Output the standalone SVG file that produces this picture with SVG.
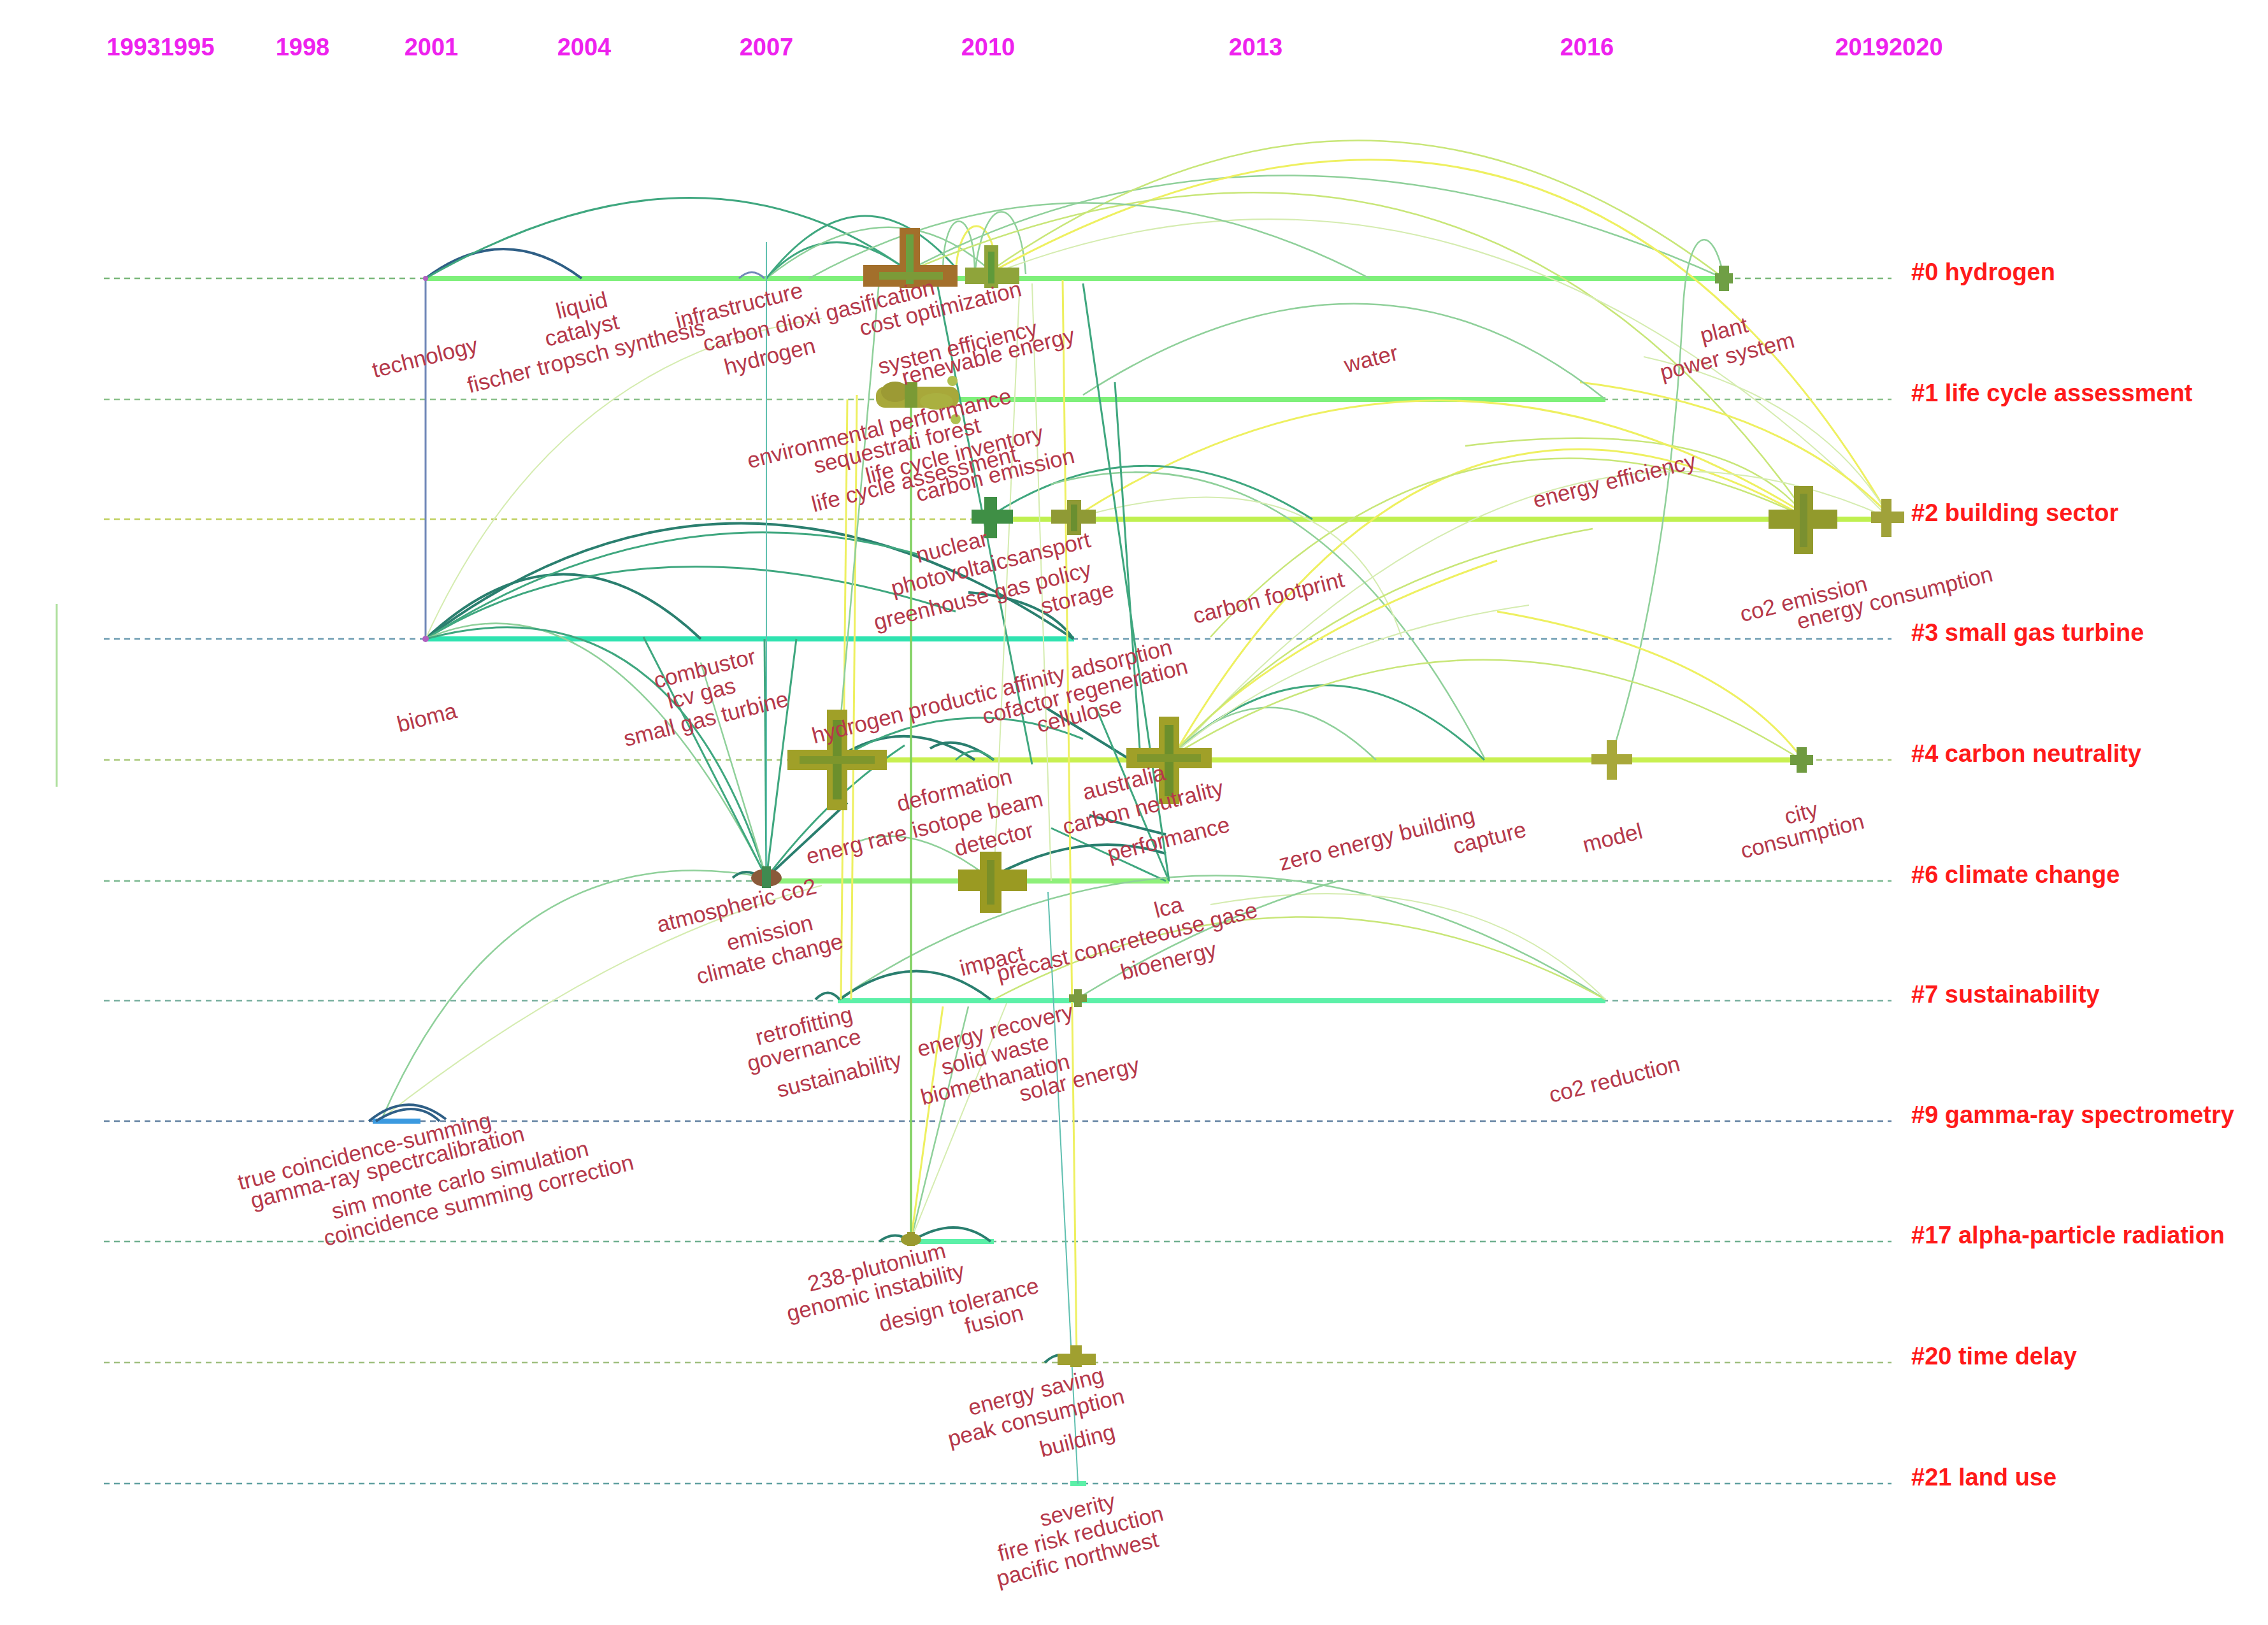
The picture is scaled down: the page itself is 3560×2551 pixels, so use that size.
<svg xmlns="http://www.w3.org/2000/svg" width="3560" height="2551" viewBox="0 0 3560 2551">
<style>
.yr{font-family:"Liberation Sans",Arial,sans-serif;font-weight:bold;font-size:38px;fill:#ee22ee;text-anchor:middle}
.cl{font-family:"Liberation Sans",Arial,sans-serif;font-weight:bold;font-size:38px;fill:#ff1a1a}
.kw{font-family:"Liberation Sans",Arial,sans-serif;font-size:35px;fill:#b5384a;text-anchor:middle}
.dash{stroke-width:2.5;stroke-dasharray:9 7;fill:none}
.tl{stroke-width:8;fill:none;stroke-linecap:butt}
.c1{stroke:#2a7f6f;stroke-width:4;fill:none}
.c2{stroke:#3fa77f;stroke-width:3;fill:none}
.c3{stroke:#8fd09a;stroke-width:2.5;fill:none}
.c4{stroke:#eef060;stroke-width:3;fill:none}
.c5{stroke:#c8e678;stroke-width:2.5;fill:none}
.c6{stroke:#d5ecb0;stroke-width:2;fill:none}
.c7{stroke:#7088b8;stroke-width:3;fill:none}
.c8{stroke:#2f5f86;stroke-width:4;fill:none}
.cg{stroke:#80d060;stroke-width:3.5;fill:none}
.ct{stroke:#60c0b0;stroke-width:2;fill:none}
</style>
<rect width="3560" height="2551" fill="#ffffff"/>

<g id="years">
<text class="yr" x="252" y="87">19931995</text>
<text class="yr" x="475" y="87">1998</text>
<text class="yr" x="677" y="87">2001</text>
<text class="yr" x="917" y="87">2004</text>
<text class="yr" x="1203" y="87">2007</text>
<text class="yr" x="1551" y="87">2010</text>
<text class="yr" x="1971" y="87">2013</text>
<text class="yr" x="2491" y="87">2016</text>
<text class="yr" x="2965" y="87">20192020</text>
</g>

<line x1="89" y1="948" x2="89" y2="1235" stroke="#b0e0a0" stroke-width="3"/>

<g id="timelines">
<line class="dash" x1="163" y1="437" x2="2969" y2="437" stroke="#7ab87a"/>
<line class="dash" x1="163" y1="627" x2="2969" y2="627" stroke="#8ac08a"/>
<line class="dash" x1="163" y1="815" x2="2969" y2="815" stroke="#c0d060"/>
<line class="dash" x1="163" y1="1003" x2="2969" y2="1003" stroke="#6a9ab0"/>
<line class="dash" x1="163" y1="1193" x2="2969" y2="1193" stroke="#a8c878"/>
<line class="dash" x1="163" y1="1383" x2="2969" y2="1383" stroke="#7ab890"/>
<line class="dash" x1="163" y1="1571" x2="2969" y2="1571" stroke="#7ab0a0"/>
<line class="dash" x1="163" y1="1760" x2="2969" y2="1760" stroke="#6080a0"/>
<line class="dash" x1="163" y1="1949" x2="2969" y2="1949" stroke="#70b090"/>
<line class="dash" x1="163" y1="2139" x2="2969" y2="2139" stroke="#a0c080"/>
<line class="dash" x1="163" y1="2329" x2="2969" y2="2329" stroke="#60a0a0"/>
<line class="tl" x1="668" y1="437" x2="2706" y2="437" stroke="#7ef07a"/>
<line class="tl" x1="1380" y1="627" x2="2520" y2="627" stroke="#7ef07a"/>
<line class="tl" x1="1555" y1="815" x2="2962" y2="815" stroke="#bff050"/>
<line class="tl" x1="668" y1="1003" x2="1686" y2="1003" stroke="#2ee3b0"/>
<line class="tl" x1="1314" y1="1193" x2="2828" y2="1193" stroke="#c8f050"/>
<line class="tl" x1="1203" y1="1383" x2="1835" y2="1383" stroke="#8ef07a"/>
<line class="tl" x1="1315" y1="1571" x2="2520" y2="1571" stroke="#5cf0a8"/>
<line class="tl" x1="585" y1="1760" x2="660" y2="1760" stroke="#3b9ae0"/>
<line class="tl" x1="1430" y1="1949" x2="1560" y2="1949" stroke="#5cf0a8"/>
<line class="tl" x1="1680" y1="2329" x2="1705" y2="2329" stroke="#5cf0a8"/>
</g>

<g id="connectors">
<path class="c7" d="M668 437 L668 1003"/>
<path class="c8" d="M668 437 Q790 345 913 437"/>
<path class="c2" d="M668 437 Q1100 190 1425 425"/>
<path class="c7" d="M1160 437 Q1180 418 1200 437"/>
<path class="c2" d="M1203 437 Q1300 330 1425 425"/>
<path class="c3" d="M1203 437 Q1400 280 1560 430"/>
<path class="c2" d="M1203 437 Q1350 250 1500 420"/>
<path class="c3" d="M1480 430 C1480 320 1530 320 1530 430"/>
<path class="c4" d="M1500 430 C1505 330 1560 330 1565 430"/>
<path class="c3" d="M1530 430 C1545 300 1600 300 1610 430"/>
<path class="c3" d="M1425 425 Q2000 120 2706 437"/>
<path class="c5" d="M1555 425 Q2150 10 2706 437"/>
<path class="c4" d="M1560 425 Q2450 -60 2962 805"/>
<path class="c5" d="M1440 420 Q2300 60 2830 800"/>
<path class="c6" d="M1570 425 Q2300 150 2962 810"/>
<path class="c3" d="M1270 437 Q1700 200 2150 437"/>
<path class="c3" d="M2706 437 C2690 350 2650 350 2642 480 Q2620 900 2530 1185"/>
<path class="c4" d="M2480 600 Q2800 640 2962 805"/>
<path class="c6" d="M2580 560 Q2850 620 2962 805"/>
<path class="c5" d="M2300 700 Q2700 650 2830 805"/>
<path class="c3" d="M1700 620 Q2150 330 2520 627"/>
<path class="c4" d="M1690 810 Q2250 450 2830 805"/>
<path class="c4" d="M1840 1190 Q2250 480 2830 810"/>
<path class="c6" d="M1840 1190 Q2400 560 2962 812"/>
<path class="c5" d="M1900 1000 Q2300 560 2830 810"/>
<path class="c2" d="M1555 810 Q1800 650 2060 815"/>
<path class="c3" d="M1650 760 Q2050 650 2330 1190"/>
<path class="c6" d="M1700 810 Q2100 700 2200 1000"/>
<path class="c1" d="M668 1003 Q885 800 1100 1003"/>
<path class="c1" d="M668 1003 Q1150 640 1685 1003"/>
<path class="c2" d="M668 1003 Q1050 760 1440 870"/>
<path class="c2" d="M668 1003 Q1000 800 1500 960"/>
<path class="c3" d="M668 1003 Q950 880 1203 1378"/>
<path class="c2" d="M668 1003 Q1050 900 1203 1378"/>
<path class="c6" d="M668 1003 Q870 560 1290 500"/>
<path class="c1" d="M1520 930 Q1640 940 1685 1003"/>
<path class="c1" d="M1314 1190 Q1420 1120 1530 1193"/>
<path class="c1" d="M1460 1175 Q1500 1150 1560 1193"/>
<path class="c2" d="M1500 1193 Q1530 1165 1560 1193"/>
<path class="c2" d="M1835 1190 Q2080 960 2330 1193"/>
<path class="c3" d="M1835 1190 Q1990 1030 2160 1193"/>
<path class="c5" d="M1835 1190 Q2330 880 2828 1193"/>
<path class="c4" d="M1835 1190 Q2000 1000 2350 880"/>
<path class="c5" d="M1835 1190 Q2100 900 2500 830"/>
<path class="c6" d="M1835 1190 Q2050 1000 2400 950"/>
<path class="c4" d="M2350 960 Q2700 1020 2828 1190"/>
<path class="c1" d="M1640 1110 L1770 1190"/>
<path class="c2" d="M1720 1110 L1835 1383"/>
<path class="c2" d="M1650 1300 L1830 1383"/>
<path class="c1" d="M1710 1280 L1830 1310"/>
<path class="c2" d="M1314 1193 Q1500 1080 1700 1160"/>
<path class="c3" d="M600 1755 Q800 1300 1203 1378"/>
<path class="c6" d="M600 1755 Q950 1480 1290 1390"/>
<path class="c1" d="M1150 1378 Q1170 1360 1195 1378"/>
<path class="c2" d="M1203 1378 L1010 1000"/>
<path class="c2" d="M1203 1378 L1200 1003"/>
<path class="c2" d="M1203 1378 L1250 1003"/>
<path class="c1" d="M1203 1378 L1330 1260"/>
<path class="c2" d="M1203 1378 Q1300 1250 1420 1170"/>
<path class="c3" d="M1203 1378 L1100 1040"/>
<path class="c1" d="M1560 1375 Q1700 1300 1830 1340"/>
<path class="c3" d="M1555 1380 Q1440 1290 1350 1320"/>
<path class="c3" d="M1315 1569 Q1900 1180 2520 1569"/>
<path class="c5" d="M1560 1569 Q2050 1310 2520 1569"/>
<path class="c6" d="M1900 1420 Q2300 1350 2520 1569"/>
<path class="c3" d="M1692 1567 Q1900 1440 2100 1383"/>
<path class="c1" d="M1280 1569 Q1300 1548 1318 1569"/>
<path class="c1" d="M1318 1569 Q1440 1480 1555 1569"/>
<path class="c8" d="M579 1760 Q640 1710 700 1757"/>
<path class="c8" d="M590 1760 Q650 1722 690 1760"/>
<path class="c1" d="M1380 1949 Q1405 1930 1430 1949"/>
<path class="c1" d="M1430 1949 Q1500 1905 1555 1949"/>
<path class="c3" d="M1430 1946 L1520 1580"/>
<path class="c6" d="M1430 1946 L1580 1575"/>
<path class="c4" d="M1430 1946 L1480 1580"/>
<path class="c1" d="M1640 2139 Q1665 2115 1690 2139"/>
<path class="ct" d="M1203 380 L1203 1378"/>
<path class="c4" d="M1330 627 L1320 1569"/>
<path class="c4" d="M1345 620 L1336 1569"/>
<path class="cg" d="M1430 620 L1430 1946"/>
<path class="c4" d="M1668 440 L1690 2130"/>
<path class="ct" d="M1645 1400 L1692 2329"/>
<path class="c3" d="M1380 440 L1314 1190"/>
<path class="c2" d="M1470 440 L1620 1200"/>
<path class="c6" d="M1620 445 L1650 1383"/>
<path class="c2" d="M1700 445 L1835 1383"/>
<path class="c6" d="M1600 460 L1560 1380"/>
<path class="c2" d="M1750 600 L1790 1190"/>
</g>

<g id="nodes">
<g id="n-hydrogen-2009"><rect x="1412" y="358" width="32" height="94" fill="#a36f2b"/><rect x="1355" y="416" width="148" height="34" fill="#a36f2b"/><rect x="1422" y="368" width="12" height="78" fill="#6aa040"/><rect x="1380" y="427" width="100" height="12" fill="#7c9a38"/></g>
<g id="n-hydrogen-2010"><rect x="1545" y="385" width="22" height="67" fill="#8fa43a"/><rect x="1515" y="420" width="85" height="26" fill="#8fa43a"/><rect x="1551" y="395" width="10" height="50" fill="#5f9a3a"/></g>
<g id="n-plant"><rect x="2698" y="417" width="16" height="40" fill="#6f9f45"/><rect x="2692" y="429" width="28" height="16" fill="#6f9f45"/></g>
<g id="n-lca-2009"><rect x="1375" y="607" width="130" height="33" rx="14" fill="#a8a83a"/><ellipse cx="1405" cy="615" rx="22" ry="16" fill="#9c9a34"/><ellipse cx="1470" cy="630" rx="26" ry="13" fill="#aab040"/><rect x="1420" y="600" width="20" height="40" fill="#7a9a35"/><circle cx="1495" cy="598" r="8" fill="#b0c050"/><circle cx="1500" cy="658" r="8" fill="#b0c050"/></g>
<g id="n-bs-2010"><rect x="1545" y="780" width="20" height="65" fill="#3f8f45"/><rect x="1525" y="800" width="65" height="22" fill="#3f8f45"/></g>
<g id="n-bs-2011"><rect x="1675" y="785" width="22" height="55" fill="#8f9a35"/><rect x="1650" y="800" width="70" height="22" fill="#8f9a35"/><rect x="1681" y="792" width="10" height="42" fill="#6a8f30"/></g>
<g id="n-co2-emission"><rect x="2816" y="763" width="30" height="107" fill="#929a2c"/><rect x="2776" y="800" width="108" height="30" fill="#929a2c"/><rect x="2825" y="775" width="12" height="84" fill="#7a9030"/></g>
<g id="n-energy-consumption"><rect x="2953" y="783" width="16" height="60" fill="#a0a23a"/><rect x="2937" y="803" width="52" height="18" fill="#a0a23a"/></g>
<g id="n-cn-2008"><rect x="1298" y="1114" width="32" height="158" fill="#a0a028"/><rect x="1236" y="1177" width="156" height="32" fill="#a0a028"/><rect x="1307" y="1130" width="14" height="125" fill="#6c8f2c"/><rect x="1255" y="1187" width="118" height="12" fill="#7e962c"/></g>
<g id="n-cn-2011"><rect x="1819" y="1125" width="32" height="137" fill="#a0a028"/><rect x="1768" y="1174" width="134" height="32" fill="#a0a028"/><rect x="1828" y="1138" width="14" height="112" fill="#6c8f2c"/><rect x="1785" y="1184" width="100" height="12" fill="#7e962c"/></g>
<g id="n-model"><rect x="2522" y="1162" width="16" height="62" fill="#a8a83a"/><rect x="2498" y="1184" width="64" height="16" fill="#a8a83a"/></g>
<g id="n-city"><rect x="2820" y="1173" width="16" height="40" fill="#6f9a40"/><rect x="2810" y="1185" width="36" height="16" fill="#6f9a40"/></g>
<g id="n-atmospheric-co2"><ellipse cx="1203" cy="1378" rx="24" ry="14" fill="#8a5a3a"/><rect x="1196" y="1360" width="14" height="34" fill="#3f8a50"/></g>
<g id="n-cc-2010"><rect x="1538" y="1337" width="34" height="96" fill="#9a9a22"/><rect x="1504" y="1365" width="108" height="34" fill="#9a9a22"/><rect x="1549" y="1350" width="12" height="70" fill="#7a8f28"/></g>
<g id="n-sust"><rect x="1686" y="1553" width="12" height="28" fill="#7a9a40"/><rect x="1678" y="1561" width="28" height="12" fill="#7a9a40"/></g>
<g id="n-plutonium"><ellipse cx="1430" cy="1946" rx="16" ry="10" fill="#9a9a30"/><rect x="1424" y="1934" width="12" height="22" fill="#9a9a30"/></g>
<g id="n-energy-saving"><rect x="1680" y="2112" width="18" height="34" fill="#a0a030"/><rect x="1660" y="2125" width="60" height="18" fill="#a0a030"/></g>
<circle cx="668" cy="437" r="4" fill="#b060c0"/>
<circle cx="668" cy="1003" r="5" fill="#b060c0"/>
</g>

<g id="keywords">
<text class="kw" transform="translate(667,561) rotate(-14)" dy="0.35em">technology</text>
<text class="kw" transform="translate(913,479) rotate(-14)" dy="0.35em">liquid</text>
<text class="kw" transform="translate(913,518) rotate(-14)" dy="0.35em">catalyst</text>
<text class="kw" transform="translate(920,559) rotate(-14)" dy="0.35em">fischer tropsch synthesis</text>
<text class="kw" transform="translate(1160,479) rotate(-14)" dy="0.35em">infrastructure</text>
<text class="kw" transform="translate(1285,495) rotate(-14)" dy="0.35em">carbon dioxi gasification</text>
<text class="kw" transform="translate(1208,559) rotate(-14)" dy="0.35em">hydrogen</text>
<text class="kw" transform="translate(1476,484) rotate(-14)" dy="0.35em">cost optimization</text>
<text class="kw" transform="translate(1503,545) rotate(-14)" dy="0.35em">systen efficiency</text>
<text class="kw" transform="translate(1551,559) rotate(-14)" dy="0.35em">renewable energy</text>
<text class="kw" transform="translate(2152,563) rotate(-14)" dy="0.35em">water</text>
<text class="kw" transform="translate(2706,518) rotate(-14)" dy="0.35em">plant</text>
<text class="kw" transform="translate(2711,559) rotate(-14)" dy="0.35em">power system</text>
<text class="kw" transform="translate(1380,672) rotate(-14)" dy="0.35em">environmental performance</text>
<text class="kw" transform="translate(1408,699) rotate(-14)" dy="0.35em">sequestrati forest</text>
<text class="kw" transform="translate(1498,713) rotate(-14)" dy="0.35em">life cycle inventory</text>
<text class="kw" transform="translate(1435,752) rotate(-14)" dy="0.35em">life cycle assessment</text>
<text class="kw" transform="translate(1562,745) rotate(-14)" dy="0.35em">carbon emission</text>
<text class="kw" transform="translate(2534,754) rotate(-14)" dy="0.35em">energy efficiency</text>
<text class="kw" transform="translate(1494,858) rotate(-14)" dy="0.35em">nuclear</text>
<text class="kw" transform="translate(1555,885) rotate(-14)" dy="0.35em">photovoltaicsansport</text>
<text class="kw" transform="translate(1542,935) rotate(-14)" dy="0.35em">greenhouse gas policy</text>
<text class="kw" transform="translate(1691,938) rotate(-14)" dy="0.35em">storage</text>
<text class="kw" transform="translate(1991,938) rotate(-14)" dy="0.35em">carbon footprint</text>
<text class="kw" transform="translate(2831,940) rotate(-14)" dy="0.35em">co2 emission</text>
<text class="kw" transform="translate(2974,938) rotate(-14)" dy="0.35em">energy consumption</text>
<text class="kw" transform="translate(1106,1049) rotate(-14)" dy="0.35em">combustor</text>
<text class="kw" transform="translate(1101,1088) rotate(-14)" dy="0.35em">lcv gas</text>
<text class="kw" transform="translate(1108,1128) rotate(-14)" dy="0.35em">small gas turbine</text>
<text class="kw" transform="translate(670,1126) rotate(-14)" dy="0.35em">bioma</text>
<text class="kw" transform="translate(1557,1085) rotate(-14)" dy="0.35em">hydrogen productic affinity adsorption</text>
<text class="kw" transform="translate(1703,1085) rotate(-14)" dy="0.35em">cofactor regeneration</text>
<text class="kw" transform="translate(1694,1122) rotate(-14)" dy="0.35em">cellulose</text>
<text class="kw" transform="translate(1498,1240) rotate(-14)" dy="0.35em">deformation</text>
<text class="kw" transform="translate(1451,1299) rotate(-14)" dy="0.35em">energ rare isotope beam</text>
<text class="kw" transform="translate(1764,1228) rotate(-14)" dy="0.35em">australia</text>
<text class="kw" transform="translate(1794,1267) rotate(-14)" dy="0.35em">carbon neutrality</text>
<text class="kw" transform="translate(1560,1317) rotate(-14)" dy="0.35em">detector</text>
<text class="kw" transform="translate(1834,1317) rotate(-14)" dy="0.35em">performance</text>
<text class="kw" transform="translate(2161,1317) rotate(-14)" dy="0.35em">zero energy building</text>
<text class="kw" transform="translate(2338,1315) rotate(-14)" dy="0.35em">capture</text>
<text class="kw" transform="translate(2531,1315) rotate(-14)" dy="0.35em">model</text>
<text class="kw" transform="translate(2827,1276) rotate(-14)" dy="0.35em">city</text>
<text class="kw" transform="translate(2829,1312) rotate(-14)" dy="0.35em">consumption</text>
<text class="kw" transform="translate(1156,1421) rotate(-14)" dy="0.35em">atmospheric co2</text>
<text class="kw" transform="translate(1208,1464) rotate(-14)" dy="0.35em">emission</text>
<text class="kw" transform="translate(1208,1505) rotate(-14)" dy="0.35em">climate change</text>
<text class="kw" transform="translate(1834,1424) rotate(-14)" dy="0.35em">lca</text>
<text class="kw" transform="translate(1557,1508) rotate(-14)" dy="0.35em">impact</text>
<text class="kw" transform="translate(1769,1478) rotate(-14)" dy="0.35em">precast concreteouse gase</text>
<text class="kw" transform="translate(1834,1508) rotate(-14)" dy="0.35em">bioenergy</text>
<text class="kw" transform="translate(1262,1610) rotate(-14)" dy="0.35em">retrofitting</text>
<text class="kw" transform="translate(1262,1648) rotate(-14)" dy="0.35em">governance</text>
<text class="kw" transform="translate(1317,1687) rotate(-14)" dy="0.35em">sustainability</text>
<text class="kw" transform="translate(1562,1617) rotate(-14)" dy="0.35em">energy recovery</text>
<text class="kw" transform="translate(1562,1655) rotate(-14)" dy="0.35em">solid waste</text>
<text class="kw" transform="translate(1562,1694) rotate(-14)" dy="0.35em">biomethanation</text>
<text class="kw" transform="translate(1694,1694) rotate(-14)" dy="0.35em">solar energy</text>
<text class="kw" transform="translate(2534,1694) rotate(-14)" dy="0.35em">co2 reduction</text>
<text class="kw" transform="translate(572,1807) rotate(-14)" dy="0.35em">true coincidence-summing</text>
<text class="kw" transform="translate(608,1832) rotate(-14)" dy="0.35em">gamma-ray spectrcalibration</text>
<text class="kw" transform="translate(722,1852) rotate(-14)" dy="0.35em">sim monte carlo simulation</text>
<text class="kw" transform="translate(751,1884) rotate(-14)" dy="0.35em">coincidence summing correction</text>
<text class="kw" transform="translate(1376,1989) rotate(-14)" dy="0.35em">238-plutonium</text>
<text class="kw" transform="translate(1374,2028) rotate(-14)" dy="0.35em">genomic instability</text>
<text class="kw" transform="translate(1505,2048) rotate(-14)" dy="0.35em">design tolerance</text>
<text class="kw" transform="translate(1560,2071) rotate(-14)" dy="0.35em">fusion</text>
<text class="kw" transform="translate(1626,2184) rotate(-14)" dy="0.35em">energy saving</text>
<text class="kw" transform="translate(1626,2225) rotate(-14)" dy="0.35em">peak consumption</text>
<text class="kw" transform="translate(1691,2261) rotate(-14)" dy="0.35em">building</text>
<text class="kw" transform="translate(1691,2370) rotate(-14)" dy="0.35em">severity</text>
<text class="kw" transform="translate(1696,2407) rotate(-14)" dy="0.35em">fire risk reduction</text>
<text class="kw" transform="translate(1691,2447) rotate(-14)" dy="0.35em">pacific northwest</text>
</g>

<g id="clusters">
<text class="cl" x="3000" y="440">#0 hydrogen</text>
<text class="cl" x="3000" y="630">#1 life cycle assessment</text>
<text class="cl" x="3000" y="818">#2 building sector</text>
<text class="cl" x="3000" y="1006">#3 small gas turbine</text>
<text class="cl" x="3000" y="1196">#4 carbon neutrality</text>
<text class="cl" x="3000" y="1386">#6 climate change</text>
<text class="cl" x="3000" y="1574">#7 sustainability</text>
<text class="cl" x="3000" y="1763">#9 gamma-ray spectrometry</text>
<text class="cl" x="3000" y="1952">#17 alpha-particle radiation</text>
<text class="cl" x="3000" y="2142">#20 time delay</text>
<text class="cl" x="3000" y="2332">#21 land use</text>
</g>
</svg>
